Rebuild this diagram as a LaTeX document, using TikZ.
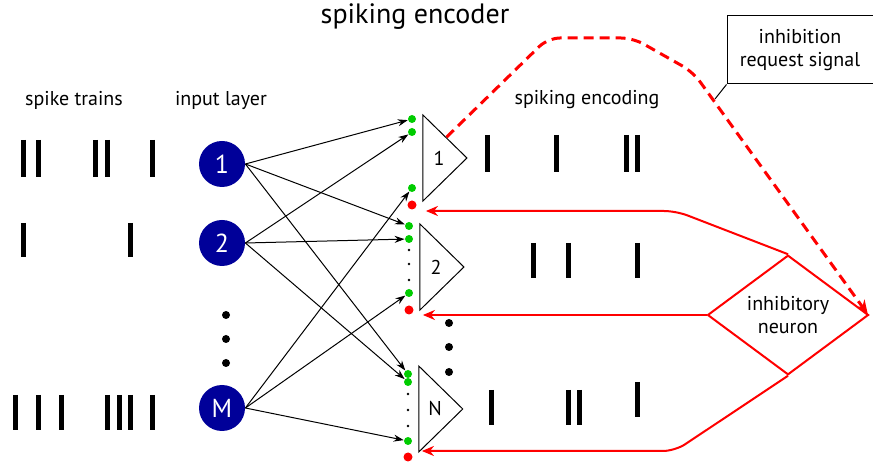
\documentclass[tikz,border=0pt]{standalone}
\usepackage{fontspec}
\setmainfont{PT Sans}
\usetikzlibrary{shapes.geometric,arrows.meta}
\definecolor{neuronblue}{RGB}{0,0,153}
\definecolor{spikegreen}{RGB}{0,204,0}
\definecolor{spikered}{RGB}{255,0,0}

\begin{document}
\begin{tikzpicture}[x=0.5pt,y=-0.5pt,
  every node/.style={font=\fontsize{10}{11.5}\selectfont},
  inneuron/.style={circle,fill=neuronblue,minimum size=23pt,inner sep=0,text=white,font=\fontsize{13}{13}\selectfont},
  outneuron/.style={isosceles triangle,isosceles triangle stretches,draw=black,fill=white,line width=0.5pt,minimum width=43pt,minimum height=22pt,inner sep=0,font=\fontsize{10}{10}\selectfont},
  exc/.style={circle,fill=spikegreen,minimum size=4pt,inner sep=0},
  stopdot/.style={circle,fill=spikered,minimum size=4.5pt,inner sep=0},
  syn/.style={line width=0.5pt,-{Stealth[length=5pt,width=3.5pt]}},
  inhib/.style={spikered,line width=1pt,rounded corners=6pt,shorten >=4.5pt,-{Stealth[length=6pt,width=5pt]}},
  spike/.style={line width=2.5pt}]
\useasboundingbox (0,0) rectangle (873,464);

\node (title) at (415,17) {\fontsize{14}{15}\selectfont spiking encoder};
\node (trains) at (74,100) {spike trains};
\node (layer) at (221,100) {input layer};
\node (coding) at (587,100) {spiking encoding};

\draw[spike] (23,140) -- (23,177) (38,140) -- (38,177) (95,140) -- (95,177) (107,140) -- (107,177) (152,140) -- (152,177);
\draw[spike] (23,223) -- (23,257) (130,223) -- (130,257);
\draw[spike] (15,395) -- (15,430) (38,395) -- (38,430) (61,395) -- (61,430) (107,395) -- (107,430) (119,395) -- (119,430) (130,395) -- (130,430) (152,395) -- (152,430);

\node[inneuron] (n1) at (222,164) {1};
\node[inneuron] (n2) at (222,243) {2};
\node[inneuron] (nM) at (222,408) {M};
\fill (226,315) circle (2pt) (226,339) circle (2pt) (226,363) circle (2pt);

\node[outneuron] (e1) at (439,158) {1};
\node[outneuron] (e2) at (436,267) {2};
\node[outneuron] (eN) at (435,409) {N};

\node[exc] (g11) at (412,119) {};
\node[exc] (g12) at (412,132) {};
\node[exc] (g13) at (412,188) {};
\node[stopdot] (r1) at (412,205) {};
\node[exc] (g21) at (409,226) {};
\node[exc] (g22) at (409,239) {};
\node[exc] (g23) at (409,293) {};
\node[stopdot] (r2) at (409,310) {};
\node[exc] (gN1) at (408,374) {};
\node[exc] (gN2) at (408,382) {};
\node[exc] (gN3) at (408,441) {};
\node[stopdot] (rN) at (408,457) {};
\fill (409,250) circle (0.7pt) (409,264) circle (0.7pt) (409,280) circle (0.7pt);
\fill (408,394) circle (0.7pt) (408,410) circle (0.7pt) (408,426) circle (0.7pt);
\fill (449,323) circle (2pt) (449,347) circle (2pt) (449,372) circle (2pt);

\draw[syn] (n1.east) -- (g11);
\draw[syn] (n2.east) -- (g12);
\draw[syn] (nM.east) -- (g13);
\draw[syn] (n1.east) -- (g21);
\draw[syn] (n2.east) -- (g22);
\draw[syn] (nM.east) -- (g23);
\draw[syn] (n1.east) -- (gN1);
\draw[syn] (n2.east) -- (gN2);
\draw[syn] (nM.east) -- (gN3);

\draw[spike] (487,135) -- (487,172) (556,135) -- (556,172) (626,135) -- (626,172) (637,135) -- (637,172);
\draw[spike] (533,243) -- (533,278) (568,243) -- (568,278) (637,243) -- (637,278);
\draw[spike] (491,390) -- (491,425) (568,390) -- (568,425) (579,390) -- (579,425) (637,382) -- (637,417);

\coordinate (d1) at (548,38);
\coordinate (d2) at (633,38);
\coordinate (d3) at (693,72);
\draw[spikered,line width=1.5pt,dash pattern=on 5pt off 3pt,rounded corners=6pt,shorten >=1pt,-{Stealth[length=7pt,width=6pt]}] (e1.70) -- (d1) -- (d2) -- (d3) -- (869,316);

\node[diamond,draw=spikered,line width=1pt,fill=white,minimum width=80.5pt,minimum height=46pt,inner sep=0,align=center] (inhn) at (788,315) {inhibitory\\neuron};

\coordinate (c1) at (676,211);
\coordinate (c3) at (675,451);
\draw[inhib] (inhn.north) -- (c1) -- (c1 -| r1.east);
\draw[inhib] (inhn.west) -- (inhn.west -| r2.east);
\draw[inhib] (inhn.south) -- (c3) -- (c3 -| rN.east);

\node[draw,line width=0.5pt,minimum width=73pt,minimum height=34pt,align=center,inner sep=2pt] (req) at (800,50) {inhibition\\request signal};
\coordinate (reqpt) at (715,99);
\draw[line width=0.5pt] (req.south west) -- (reqpt);
\end{tikzpicture}
\end{document}
